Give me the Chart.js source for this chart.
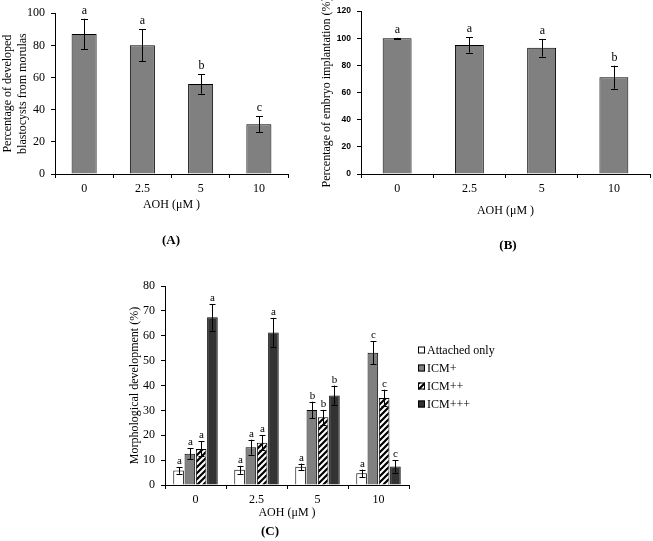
<!DOCTYPE html>
<html><head><meta charset="utf-8">
<script src="https://cdn.jsdelivr.net/npm/chart.js@4/dist/chart.umd.min.js"></script>
<style>
html,body{margin:0;padding:0;background:#fff;width:653px;height:541px;overflow:hidden;position:relative}
canvas{position:absolute}
.lbl{position:absolute;font:bold 13px 'Liberation Serif','Times New Roman',serif;transform:translate(-50%,-50%);color:#000;white-space:nowrap}
</style></head><body>
<canvas id="cA" width="300" height="260" style="left:0;top:0;width:300px;height:260px"></canvas>
<canvas id="cB" width="333" height="260" style="left:320px;top:0;width:333px;height:260px"></canvas>
<canvas id="cC" width="420" height="271" style="left:100px;top:270px;width:420px;height:271px"></canvas>
<div class="lbl" style="left:171px;top:240px">(A)</div>
<div class="lbl" style="left:508px;top:245px">(B)</div>
<div class="lbl" style="left:270px;top:531px">(C)</div>
<script>
// ---- data ----
const categories = ['0', '2.5', '5', '10'];
// Panel A: blastocyst development
const blastMeans = [87, 80, 56, 31];
const blastErr = [9.5, 10, 6, 4.8];
const blastLetters = ['a', 'a', 'b', 'c'];
// Panel B: embryo implantation
const implantMeans = [100, 95, 93, 71.3];
const implantErr = [0.3, 5.6, 6.5, 8.5];
const implantLetters = ['a', 'a', 'a', 'b'];
// Panel C: morphological development
const seriesNames = ['Attached only', 'ICM+', 'ICM++', 'ICM+++'];
const attachedMeans = [5.8, 6.1, 7.3, 4.7];
const attachedErr = [1.3, 1.6, 1.3, 1.5];
const attachedLetters = ['a', 'a', 'a', 'a'];
const icm1Means = [12.6, 15.2, 30.2, 53.2];
const icm1Err = [2.2, 3.0, 3.3, 4.6];
const icm1Letters = ['a', 'a', 'b', 'c'];
const icm2Means = [14.5, 17.0, 27.2, 35.0];
const icm2Err = [3.0, 3.0, 3.0, 3.3];
const icm2Letters = ['a', 'a', 'b', 'c'];
const icm3Means = [67.4, 61.3, 36.0, 7.4];
const icm3Err = [5.3, 5.9, 4.0, 2.5];
const icm3Letters = ['a', 'a', 'b', 'c'];
const ticksA = {min: 0, max: 100, step: 20};
const ticksB = {min: 0, max: 120, step: 20};
const ticksC = {min: 0, max: 80, step: 10};

const SERIF = "'Liberation Serif','Times New Roman',serif";
const SANS = "'Liberation Sans',Arial,sans-serif";

const errorPlugin = {
  id: 'errorPlugin',
  afterDatasetsDraw(chart) {
    const ctx = chart.ctx;
    const ys = chart.scales.y;
    const cfg = chart.options.plugins.errorPlugin || {};
    chart.data.datasets.forEach((ds, i) => {
      const meta = chart.getDatasetMeta(i);
      meta.data.forEach((bar, j) => {
        const v = ds.data[j], e = ds.errors[j];
        const x = Math.round(bar.x) + 0.5;
        const yt = ys.getPixelForValue(v + e), yb = ys.getPixelForValue(v - e);
        ctx.save();
        ctx.strokeStyle = '#000'; ctx.lineWidth = 1;
        ctx.beginPath();
        ctx.moveTo(x, yt); ctx.lineTo(x, yb);
        const cw = cfg.cap || 3.5;
        ctx.moveTo(x - cw, Math.round(yt) + 0.5); ctx.lineTo(x + cw, Math.round(yt) + 0.5);
        ctx.moveTo(x - cw, Math.round(yb) + 0.5); ctx.lineTo(x + cw, Math.round(yb) + 0.5);
        ctx.stroke();
        ctx.fillStyle = '#000';
        ctx.font = (cfg.letterSize || 12) + 'px ' + SERIF;
        ctx.textAlign = 'center'; ctx.textBaseline = 'alphabetic';
        ctx.fillText(ds.letters[j], x, yt - (cfg.letterGap || 5));
        ctx.restore();
      });
    });
  }
};

const legendPlugin = {
  id: 'legendC',
  afterDraw(chart) {
    if (!chart.options.plugins.legendC) return;
    const ctx = chart.ctx;
    const a = chart.chartArea;
    const x0 = a.right + 9;
    const y0 = a.top + 64;
    chart.data.datasets.forEach((ds, i) => {
      const y = y0 + i * 18;
      ctx.save();
      ctx.fillStyle = ds.backgroundColor;
      ctx.fillRect(x0, y - 3.5, 7, 7);
      ctx.strokeStyle = '#000'; ctx.lineWidth = 1;
      ctx.strokeRect(x0 + 0.5, y - 3.5 + 0.5, 6, 6);
      ctx.fillStyle = '#000';
      ctx.font = '12px ' + SERIF;
      ctx.textAlign = 'left'; ctx.textBaseline = 'middle';
      ctx.fillText(ds.label, x0 + 9, y + 1);
      ctx.restore();
    });
  }
};

function axisY(t, font, width, title, titlePad) {
  return {
    min: t.min, max: t.max,
    ticks: {stepSize: t.step, color: '#000', font: font, padding: 6},
    grid: {drawOnChartArea: false, drawTicks: true, tickLength: 4, color: '#000'},
    border: {display: true, color: '#000', width: 1},
    title: {display: true, text: title, color: '#000', font: {family: SERIF, size: 12}, padding: {top: titlePad, bottom: 0}},
    afterFit(s) { s.width = width; }
  };
}
function axisX(height, titlePad, tickFont) {
  return {
    ticks: {color: '#000', font: tickFont, padding: 4},
    grid: {offset: true, drawOnChartArea: false, drawTicks: true, tickLength: 4, color: '#000'},
    border: {display: true, color: '#000', width: 1},
    title: {display: true, text: 'AOH (μM )', color: '#000', font: {family: SERIF, size: 12}, padding: {top: 0, bottom: titlePad}},
    afterFit(s) { s.height = height; }
  };
}
function baseOpts(padding, scales, extra) {
  return {
    responsive: false, animation: false, devicePixelRatio: 1,
    layout: {padding: padding},
    plugins: Object.assign({legend: {display: false}, tooltip: {enabled: false}}, extra || {}),
    scales: scales
  };
}

// Panel A
new Chart(document.getElementById('cA'), {
  type: 'bar',
  data: {labels: categories, datasets: [{
    data: blastMeans, errors: blastErr, letters: blastLetters,
    backgroundColor: '#808080', borderColor: '#000', borderWidth: 1,
    barPercentage: 0.43, categoryPercentage: 1
  }]},
  options: baseOpts({left: 0, top: 10, right: 12, bottom: 0}, {
    x: axisX(86, 48, {family: SERIF, size: 12}),
    y: axisY(ticksA, {family: SERIF, size: 12}, 55, ['Percentage of developed', 'blastocysts from morulas'], 1)
  }, {errorPlugin: {cap: 3.5, letterGap: 5, letterSize: 12}}),
  plugins: [errorPlugin]
});

// Panel B
new Chart(document.getElementById('cB'), {
  type: 'bar',
  data: {labels: categories, datasets: [{
    data: implantMeans, errors: implantErr, letters: implantLetters,
    backgroundColor: '#808080', borderColor: '#000', borderWidth: 1,
    barPercentage: 0.40, categoryPercentage: 1
  }]},
  options: baseOpts({left: 0, top: 6, right: 3, bottom: 0}, {
    x: axisX(86, 42, {family: SERIF, size: 12}),
    y: axisY(ticksB, {family: SANS, size: 8.5, weight: 'bold'}, 41, 'Percentage of embryo implantation (%)', 0)
  }, {errorPlugin: {cap: 3.5, letterGap: 5, letterSize: 12}}),
  plugins: [errorPlugin]
});

// Panel C
function makeHatch(ctx) {
  const c = document.createElement('canvas');
  c.width = 6; c.height = 6;
  const g = c.getContext('2d');
  g.fillStyle = '#fff'; g.fillRect(0, 0, 6, 6);
  g.strokeStyle = '#000'; g.lineWidth = 2.2;
  g.beginPath();
  g.moveTo(-1, 7); g.lineTo(7, -1);
  g.moveTo(-1, 1); g.lineTo(1, -1);
  g.moveTo(5, 7); g.lineTo(7, 5);
  g.stroke();
  return ctx.createPattern(c, 'repeat');
}
const cC = document.getElementById('cC');
const hatch = makeHatch(cC.getContext('2d'));
const fills = ['#ffffff', '#808080', hatch, '#333333'];
const meansC = [attachedMeans, icm1Means, icm2Means, icm3Means];
const errC = [attachedErr, icm1Err, icm2Err, icm3Err];
const lettersC = [attachedLetters, icm1Letters, icm2Letters, icm3Letters];
new Chart(cC, {
  type: 'bar',
  data: {labels: categories, datasets: seriesNames.map((n, i) => ({
    label: n, data: meansC[i], errors: errC[i], letters: lettersC[i],
    backgroundColor: fills[i], borderColor: '#000', borderWidth: 1,
    barPercentage: 0.94, categoryPercentage: 0.74
  }))},
  options: baseOpts({left: 0, top: 16, right: 111, bottom: 0}, {
    x: axisX(56, 21, {family: SERIF, size: 12}),
    y: axisY(ticksC, {family: SERIF, size: 12}, 65, 'Morphological development (%)', 28)
  }, {errorPlugin: {cap: 3, letterGap: 3, letterSize: 11}, legendC: true}),
  plugins: [errorPlugin, legendPlugin]
});
</script>
</body></html>
